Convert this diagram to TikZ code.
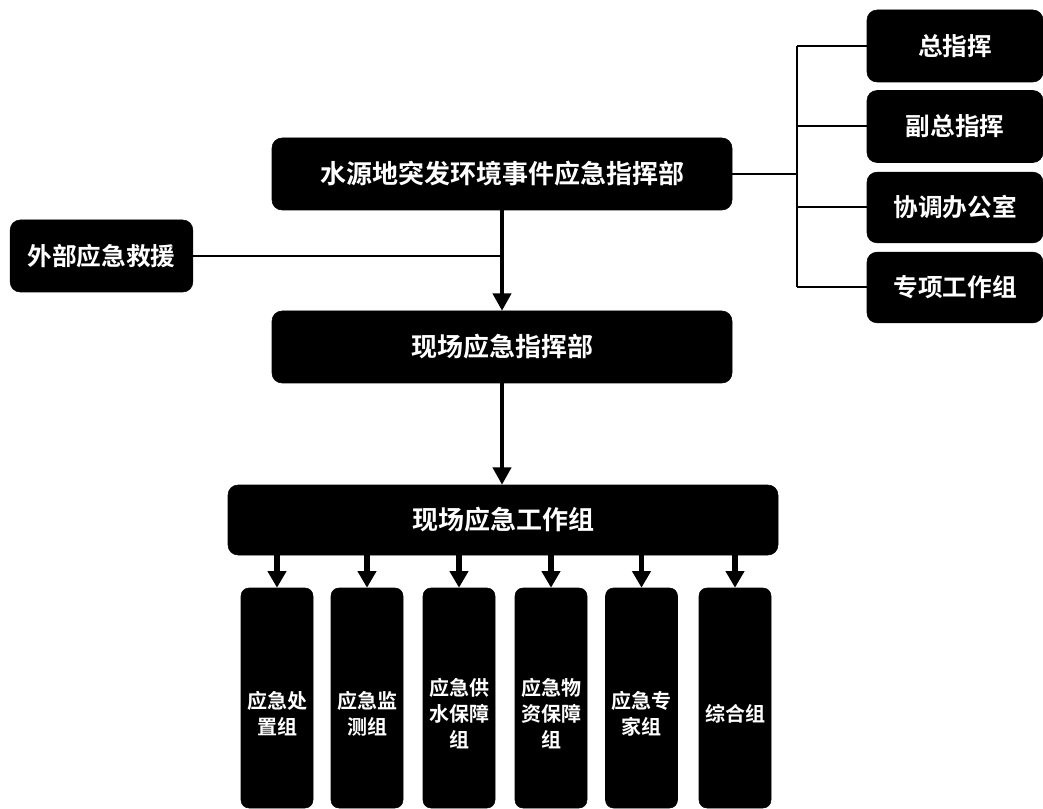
\documentclass[tikz,border=0pt]{standalone}
\usepackage{fontspec}
\setmainfont{Noto Sans CJK SC}[BoldFont={Noto Sans CJK SC Bold}]
\usetikzlibrary{arrows.meta}
\begin{document}
\begin{tikzpicture}[x=0.75pt,y=-0.75pt,
  box/.style={draw=black,fill=black,text=white,rounded corners=7.5pt,inner sep=0pt,
    font=\bfseries\fontsize{18.5pt}{22pt}\selectfont},
  bigbox/.style={box,font=\bfseries\fontsize{19.5pt}{23pt}\selectfont},
  smallbox/.style={box,rounded corners=6pt,minimum width=54pt,minimum height=165pt},
  btext/.style={text=white,inner sep=0pt,align=center,
    font=\bfseries\fontsize{15pt}{19.5pt}\selectfont},
  thin/.style={line width=1.5pt},
  arr/.style={line width=3pt,-{Triangle[width=13.5pt,length=13pt]}},
  sarr/.style={line width=4pt,-{Triangle[width=13.5pt,length=12.5pt]}}]
\useasboundingbox (0,0) rectangle (1043,809);
% top-right boxes
\node[box,minimum width=132pt,minimum height=54pt] (zh) at (955,46) {总指挥};
\node[box,minimum width=132pt,minimum height=54pt] (fzh) at (955,126.5) {副总指挥};
\node[box,minimum width=132pt,minimum height=53pt] (xt) at (955,207.5) {协调办公室};
\node[box,minimum width=132pt,minimum height=53pt] (zx) at (955,287.5) {专项工作组};
% main column
\node[bigbox,minimum width=345pt,minimum height=54pt] (main) at (502,174) {水源地突发环境事件应急指挥部};
\node[box,minimum width=137pt,minimum height=54pt] (wb) at (101.5,256) {外部应急救援};
\node[bigbox,minimum width=345pt,minimum height=54pt] (xc) at (502,347) {现场应急指挥部};
\node[bigbox,minimum width=412.5pt,minimum height=52.5pt] (gz) at (503,520) {现场应急工作组};
% bottom boxes
\node[smallbox] (b1) at (277,698) {};
\node[smallbox] (b2) at (367,698) {};
\node[smallbox] (b3) at (459,698) {};
\node[smallbox] (b4) at (551,698) {};
\node[smallbox] (b5) at (641.5,698) {};
\node[smallbox] (b6) at (735,698) {};
\node[btext] (t1) at ([yshift=-12pt]b1.center) {应急处\\置组};
\node[btext] (t2) at ([yshift=-12pt]b2.center) {应急监\\测组};
\node[btext] (t3) at ([yshift=-12pt]b3.center) {应急供\\水保障\\组};
\node[btext] (t4) at ([yshift=-12pt]b4.center) {应急物\\资保障\\组};
\node[btext] (t5) at ([yshift=-12pt]b5.center) {应急专\\家组};
\node[btext] (t6) at ([yshift=-12pt]b6.center) {综合组};
% bus to the right
\coordinate (bus) at (797,174);
\coordinate (bt) at (797,46);
\coordinate (bb) at (797,287.5);
\draw[thin] (main.east) -- (bus);
\draw[thin] (bt) -- (bb);
\draw[thin] (bt) -- (zh.west);
\draw[thin] (fzh.west -| bus) -- (fzh.west);
\draw[thin] (xt.west -| bus) -- (xt.west);
\draw[thin] (bb) -- (zx.west);
% main vertical
\coordinate (j) at (502,256);
\draw[thin] (wb.east) -- (j);
\draw[arr] (main.south) -- (xc.north);
\draw[arr] (xc.south) -- (gz.north -| xc.south);
% bottom arrows
\foreach \b in {b1,b2,b3,b4,b5,b6}{
  \draw[sarr] (gz.south -| \b.north) -- (\b.north);
}
\end{tikzpicture}
\end{document}
